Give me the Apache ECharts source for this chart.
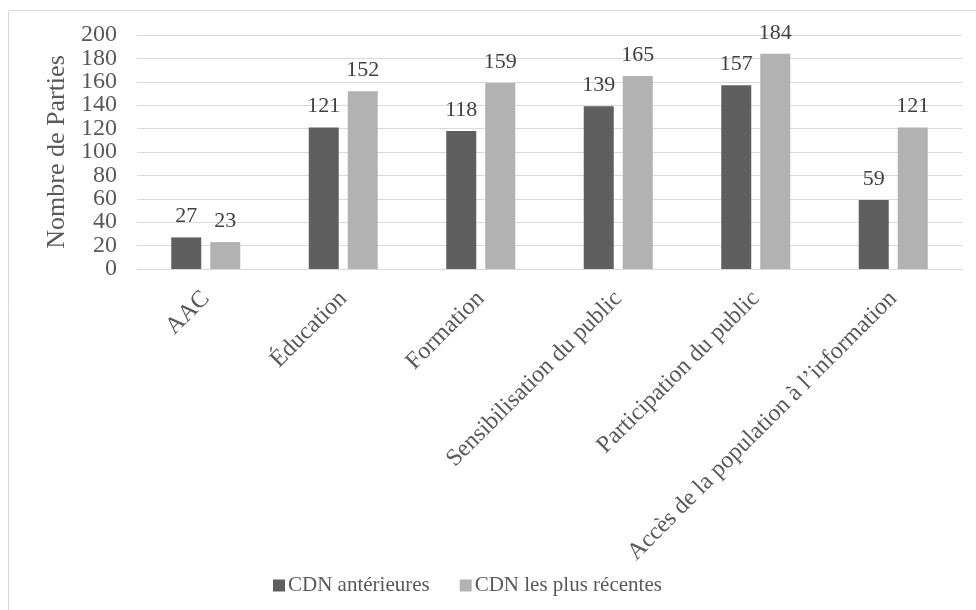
<!DOCTYPE html>
<html>
<head>
<meta charset="utf-8">
<script src="https://cdn.jsdelivr.net/npm/echarts@6/dist/echarts.min.js"></script>
<style>
  html, body { margin: 0; padding: 0; background: #ffffff; }
  #chart { width: 976px; height: 610px; }
</style>
</head>
<body>
<div id="chart"></div>
<script>
const categories = ['AAC', 'Éducation', 'Formation', 'Sensibilisation du public', 'Participation du public', 'Accès de la population à l’information'];
const anterieures = [27, 121, 118, 139, 157, 59];
const recentes = [23, 152, 159, 165, 184, 121];
const seriesNames = ['CDN antérieures', 'CDN les plus récentes'];
const yTicks = { min: 0, max: 200, interval: 20 };

const FONT = '"Liberation Serif", "DejaVu Serif", serif';
const TEXT = '#595959';

const chart = echarts.init(document.getElementById('chart'), null, { renderer: 'canvas' });

const labelStyle = {
  show: true,
  position: 'top',
  distance: 10,
  color: '#404040',
  fontFamily: FONT,
  fontSize: 22
};

// The tick labels are large relative to the 20-unit step, so they are split
// across two identical value axes (even steps / odd steps) so none get dropped.
const tickLabelBase = {
  margin: 20,
  color: TEXT,
  fontFamily: FONT,
  fontSize: 24,
  hideOverlap: false
};
const step = yTicks.interval;
const isEvenStep = v => Math.round(v / step) % 2 === 0;

const valueAxisBase = {
  type: 'value',
  position: 'left',
  min: yTicks.min,
  max: yTicks.max,
  interval: yTicks.interval,
  axisLine: { show: false },
  axisTick: { show: false }
};

chart.setOption({
  animation: false,
  backgroundColor: '#ffffff',
  graphic: [{
    type: 'rect',
    shape: { x: 8.5, y: 10.5, width: 1000, height: 700 },
    style: { fill: 'none', stroke: '#d9d9d9', lineWidth: 1 },
    silent: true
  }],
  grid: { left: 137, right: 14, top: 35, height: 234, containLabel: false },
  legend: {
    bottom: 9,
    left: 268,
    itemWidth: 12,
    itemHeight: 12,
    itemGap: 30,
    icon: 'rect',
    textStyle: { color: TEXT, fontFamily: FONT, fontSize: 21, padding: [0, 0, 0, -2] },
    data: seriesNames
  },
  xAxis: {
    type: 'category',
    data: categories,
    axisLine: { lineStyle: { color: '#d9d9d9', width: 1 } },
    axisTick: { show: false },
    axisLabel: {
      rotate: 45,
      interval: 0,
      margin: 26,
      color: TEXT,
      fontFamily: FONT,
      fontSize: 24
    }
  },
  yAxis: [
    Object.assign({}, valueAxisBase, {
      name: 'Nombre de Parties',
      nameLocation: 'middle',
      nameGap: 66,
      nameTextStyle: { color: TEXT, fontFamily: FONT, fontSize: 26 },
      splitLine: { lineStyle: { color: '#d9d9d9', width: 1 } },
      axisLabel: Object.assign({}, tickLabelBase, {
        showMinLabel: true,
        showMaxLabel: true,
        formatter: v => (isEvenStep(v) ? String(v) : '')
      })
    }),
    Object.assign({}, valueAxisBase, {
      splitLine: { show: false },
      axisLabel: Object.assign({}, tickLabelBase, {
        showMinLabel: false,
        showMaxLabel: false,
        formatter: v => (isEvenStep(v) ? '' : String(v))
      })
    })
  ],
  series: [
    {
      name: seriesNames[0],
      type: 'bar',
      data: anterieures,
      yAxisIndex: 0,
      barWidth: 30,
      barGap: '30%',
      itemStyle: { color: '#5f5f5f' },
      label: labelStyle
    },
    {
      name: seriesNames[1],
      type: 'bar',
      data: recentes,
      yAxisIndex: 0,
      barWidth: 30,
      itemStyle: { color: '#b2b2b2' },
      label: labelStyle
    }
  ]
});
</script>
</body>
</html>
